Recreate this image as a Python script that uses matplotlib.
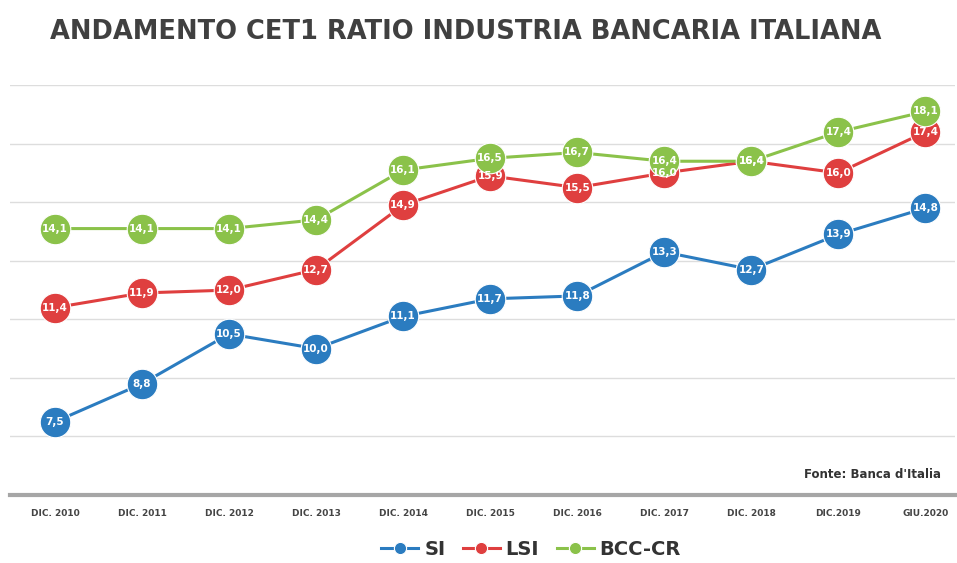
import matplotlib.pyplot as plt

periods = ['DIC. 2010', 'DIC. 2011', 'DIC. 2012', 'DIC. 2013', 'DIC. 2014', 'DIC. 2015',
           'DIC. 2016', 'DIC. 2017', 'DIC. 2018', 'DIC.2019', 'GIU.2020']
si = [7.5, 8.8, 10.5, 10.0, 11.1, 11.7, 11.8, 13.3, 12.7, 13.9, 14.8]
lsi = [11.4, 11.9, 12.0, 12.7, 14.9, 15.9, 15.5, 16.0, 16.4, 16.0, 17.4]
bcc = [14.1, 14.1, 14.1, 14.4, 16.1, 16.5, 16.7, 16.4, 16.4, 17.4, 18.1]

series = [('SI', si, '#2b7cc0'), ('LSI', lsi, '#df3f3f'), ('BCC-CR', bcc, '#8bc24a')]

fig = plt.figure(figsize=(9.57, 5.63), dpi=100)
ax = fig.add_axes([0.0104, 0.1208, 0.9875, 0.728])

x = list(range(len(periods)))
for name, vals, col in series:
    ax.plot(x, vals, color=col, linewidth=2.2, marker='o', markersize=22,
            markeredgecolor='white', markeredgewidth=0.8, label=name, zorder=3)
    for xi, v in zip(x, vals):
        ax.text(xi, v, f'{v:.1f}'.replace('.', ','), ha='center', va='center',
                color='white', fontsize=7.5, fontweight='bold', zorder=4)

ax.set_xlim(-0.517, 10.34)
ax.set_ylim(5, 19)
ax.set_yticks(range(7, 20, 2))
ax.yaxis.grid(True, color='#dddddd', linewidth=1)
ax.set_axisbelow(True)
ax.tick_params(axis='y', left=False, labelleft=False)
ax.tick_params(axis='x', length=0, pad=10)
ax.set_xticks(x)
ax.set_xticklabels(periods, fontsize=6.5, fontweight='bold', color='#444444')
for s in ['top', 'left', 'right']:
    ax.spines[s].set_visible(False)
ax.spines['bottom'].set_color('#a6a6a6')
ax.spines['bottom'].set_linewidth(3)

ax.text(0.985, 0.035, "Fonte: Banca d'Italia", transform=ax.transAxes, ha='right',
        va='bottom', fontsize=8.5, fontweight='bold', color='#333333')

fig.text(0.487, 0.943, 'ANDAMENTO CET1 RATIO INDUSTRIA BANCARIA ITALIANA', ha='center',
         va='center', fontsize=18.5, fontweight='bold', color='#404040')

leg = fig.legend(loc='center', bbox_to_anchor=(0.555, 0.024), ncol=3, frameon=False,
                 fontsize=14, handlelength=1.9, columnspacing=0.9, handletextpad=0.3,
                 markerscale=0.4)
for t in leg.get_texts():
    t.set_fontweight('bold')
    t.set_color('#333333')

fig.savefig('out.png', dpi=100)
